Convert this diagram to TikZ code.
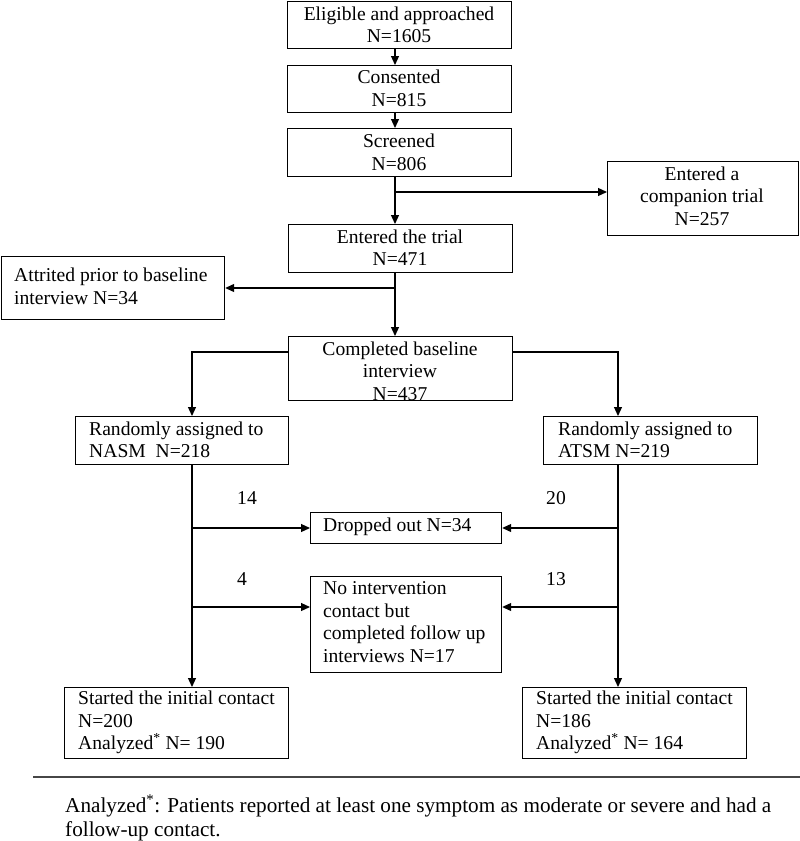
\documentclass[tikz,border=0pt]{standalone}
\usepackage{fontspec}
\setmainfont{Liberation Serif}
\usetikzlibrary{arrows.meta}
\definecolor{rulegray}{RGB}{70,70,70}
\tikzset{
  box/.style={draw, line width=1.2pt, inner sep=0pt, anchor=north west},
  txt/.style={inner sep=0pt, font=\fontsize{19.6}{22.5}\selectfont},
  ctxt/.style={txt, align=center},
  ltxt/.style={txt, align=left, anchor=west},
  conn/.style={line width=1.2pt},
  arr/.style={conn, -{Triangle[length=9pt,width=8pt]}},
}
\begin{document}
\begin{tikzpicture}[x=1pt,y=-1pt]
\useasboundingbox (0,0) rectangle (800,841);
% boxes
\node[box, minimum width=224pt, minimum height=47pt] (b1) at (287,1) {};
\node[ctxt] at (399,25) {Eligible and approached\\N=1605};
\node[box, minimum width=224pt, minimum height=47pt] (b2) at (287,65) {};
\node[ctxt] at (399,88.5) {Consented\\N=815};
\node[box, minimum width=224pt, minimum height=48pt] (b3) at (287,128) {};
\node[ctxt] at (399,152.5) {Screened\\N=806};
\node[box, minimum width=224pt, minimum height=48pt] (b4) at (288,224) {};
\node[ctxt] at (400,247.5) {Entered the trial\\N=471};
\node[box, minimum width=191pt, minimum height=74pt] (comp) at (607,161) {};
\node[ctxt] at (702,196) {Entered a\\companion trial\\N=257};
\node[box, minimum width=223pt, minimum height=63pt] (attr) at (1,256) {};
\node[ltxt] at (14,286.5) {Attrited prior to baseline\\interview N=34};
\node[box, minimum width=224pt, minimum height=64pt] (base) at (288,336) {};
\node[ctxt] at (400,371) {Completed baseline\\interview\\N=437};
\node[box, minimum width=213pt, minimum height=48pt] (nasm) at (75,416) {};
\node[ltxt] at (89,440) {Randomly assigned to\\NASM\ \ N=218};
\node[box, minimum width=214pt, minimum height=48pt] (atsm) at (543,416) {};
\node[ltxt] at (558,440) {Randomly assigned to\\ATSM N=219};
\node[box, minimum width=191pt, minimum height=31pt] (drop) at (310,512) {};
\node[ltxt] at (323,527) {Dropped out N=34};
\node[box, minimum width=191pt, minimum height=96pt] (noint) at (310,576) {};
\node[ltxt] at (323,622) {No intervention\\contact but\\completed follow up\\interviews N=17};
\node[box, minimum width=224pt, minimum height=71pt] (sl) at (64,687) {};
\node[ltxt] at (78,722.5) {Started the initial contact\\N=200\\Analyzed\textsuperscript{*} N= 190};
\node[box, minimum width=224pt, minimum height=71pt] (sr) at (522,687) {};
\node[ltxt] at (536,722.5) {Started the initial contact\\N=186\\Analyzed\textsuperscript{*} N= 164};
% numbers
\node[txt] (n14) at (247,498) {14};
\node[txt] (n20) at (556,498) {20};
\node[txt] (n4) at (242,579) {4};
\node[txt] (n13) at (556,579) {13};
% connectors
\coordinate (tx) at (395,0);
\coordinate (j1) at (395,192);
\coordinate (j2) at (395,288);
\coordinate (lx) at (192,352);
\coordinate (rx) at (618,352);
\coordinate (ld) at (192,528);
\coordinate (ln) at (192,607);
\coordinate (rd) at (618,528);
\coordinate (rn) at (618,607);
\draw[arr] (b1.south -| tx) -- (b2.north -| tx);
\draw[arr] (b2.south -| tx) -- (b3.north -| tx);
\draw[arr] (b3.south -| tx) -- (b4.north -| tx);
\draw[arr] (j1) -- (comp.west |- j1);
\draw[arr] (b4.south -| tx) -- (base.north -| tx);
\draw[arr] (j2) -- (attr.east |- j2);
\draw[arr] (base.west |- lx) -- (lx) -- (nasm.north -| lx);
\draw[arr] (base.east |- rx) -- (rx) -- (atsm.north -| rx);
\draw[arr] (nasm.south -| lx) -- (sl.north -| lx);
\draw[arr] (atsm.south -| rx) -- (sr.north -| rx);
\draw[arr] (ld) -- (drop.west |- ld);
\draw[arr] (ln) -- (noint.west |- ln);
\draw[arr] (rd) -- (drop.east |- rd);
\draw[arr] (rn) -- (noint.east |- rn);
% footnote
\coordinate (r1) at (33,777);
\coordinate (r2) at (800,777);
\draw[rulegray, line width=2.5pt] (r1) -- (r2);
\node[ltxt, font=\fontsize{21.2}{24}\selectfont] at (65,818) {Analyzed\textsuperscript{*}: Patients reported at least one symptom as moderate or severe and had a\\follow-up contact.};
\end{tikzpicture}
\end{document}
